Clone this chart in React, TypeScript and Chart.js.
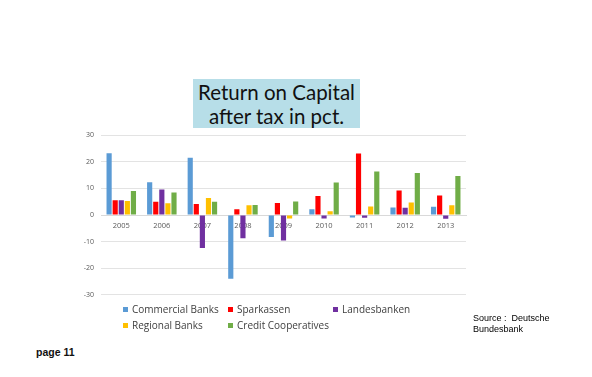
import React, { useEffect, useRef } from "react";
import { Chart, registerables } from "chart.js";

Chart.register(...registerables);

const years = ["2005", "2006", "2007", "2008", "2009", "2010", "2011", "2012", "2013"];
const seriesNames = ["Commercial Banks", "Sparkassen", "Landesbanken", "Regional Banks", "Credit Cooperatives"];
const seriesColors = ["#5B9BD5", "#FF0000", "#7030A0", "#FFC000", "#70AD47"];
const commercialBanks = [23.2, 12.3, 21.5, -24.0, -8.3, 2.2, -0.9, 2.8, 3.1];
const sparkassen = [5.5, 5.0, 4.1, 2.2, 4.5, 7.1, 23.1, 9.2, 7.3];
const landesbanken = [5.5, 9.6, -12.4, -8.7, -9.6, -1.3, -1.0, 2.7, -1.4];
const regionalBanks = [5.3, 4.4, 6.4, 3.7, -1.3, 1.4, 3.2, 4.7, 3.7];
const creditCooperatives = [9.0, 8.5, 5.0, 3.8, 5.1, 12.2, 16.4, 15.8, 14.7];
const seriesValues = [commercialBanks, sparkassen, landesbanken, regionalBanks, creditCooperatives];
const yTicks = [-30, -20, -10, 0, 10, 20, 30];

const legendLayout = [
  { i: 0, left: 123, top: 303 },
  { i: 1, left: 228, top: 303 },
  { i: 2, left: 333, top: 303 },
  { i: 3, left: 123, top: 319 },
  { i: 4, left: 228, top: 319 },
];

export default function App() {
  const ref = useRef<HTMLCanvasElement>(null);
  useEffect(() => {
    if (!ref.current) return;
    const chart = new Chart(ref.current, {
      type: "bar",
      data: {
        labels: years,
        datasets: seriesNames.map((name, i) => ({
          label: name,
          data: seriesValues[i],
          backgroundColor: seriesColors[i],
          barPercentage: 0.85,
          categoryPercentage: 0.75,
        })),
      },
      options: {
        animation: false,
        responsive: false,
        maintainAspectRatio: false,
        layout: { padding: { top: 5, right: 4, bottom: 3, left: 0 } },
        plugins: { legend: { display: false }, tooltip: { enabled: false } },
        scales: {
          x: {
            position: { y: 0 } as any,
            grid: { display: false, drawTicks: false },
            border: { display: true, color: "#D9D9D9" },
            ticks: { color: "#595959", font: { size: 7.5, family: "Open Sans" }, padding: 6, maxRotation: 0 },
          },
          y: {
            min: -30,
            max: 30,
            afterBuildTicks: (axis: any) => {
              axis.ticks = yTicks.map((v) => ({ value: v }));
            },
            afterFit: (axis: any) => {
              axis.width = 21;
            },
            grid: { color: "#E3E3E3", drawTicks: false },
            border: { display: false },
            ticks: { color: "#595959", font: { size: 7, family: "Open Sans" }, padding: 7 },
          },
        },
      },
    });
    return () => chart.destroy();
  }, []);

  return (
    <div style={{ position: "fixed", left: 0, top: 0, width: 592, height: 377, background: "#fff", overflow: "hidden" }}>
      <div
        style={{
          position: "absolute",
          left: 193,
          top: 79,
          width: 167,
          height: 49,
          background: "#B7DEE8",
          fontFamily: "Lato, 'Open Sans', sans-serif",
          fontSize: 20.5,
          lineHeight: "24px",
          textAlign: "center",
          color: "#111",
          paddingTop: 1,
          boxSizing: "border-box",
          whiteSpace: "nowrap",
        }}
      >
        Return on Capital
        <br />
        after tax in pct.
      </div>
      <canvas ref={ref} width={390} height={182} style={{ position: "absolute", left: 80, top: 124, width: 390, height: 182 }} />
      {legendLayout.map(({ i, left, top }) => (
        <div
          key={i}
          style={{
            position: "absolute",
            left,
            top,
            height: 12,
            display: "flex",
            alignItems: "center",
            fontFamily: "'Open Sans', sans-serif",
            fontSize: 10,
            color: "#404040",
            whiteSpace: "nowrap",
          }}
        >
          <span style={{ display: "inline-block", width: 5, height: 5, background: seriesColors[i], marginRight: 4 }} />
          {seriesNames[i]}
        </div>
      ))}
      <div
        style={{
          position: "absolute",
          left: 473,
          top: 313,
          fontFamily: "'Liberation Sans', Arial, sans-serif",
          fontSize: 9,
          lineHeight: "10.5px",
          color: "#000",
        }}
      >
        Source :&nbsp; Deutsche
        <br />
        Bundesbank
      </div>
      <div
        style={{
          position: "absolute",
          left: 36,
          top: 346,
          fontFamily: "'Liberation Sans', Arial, sans-serif",
          fontSize: 10.5,
          fontWeight: "bold",
          color: "#111",
        }}
      >
        page 11
      </div>
    </div>
  );
}
